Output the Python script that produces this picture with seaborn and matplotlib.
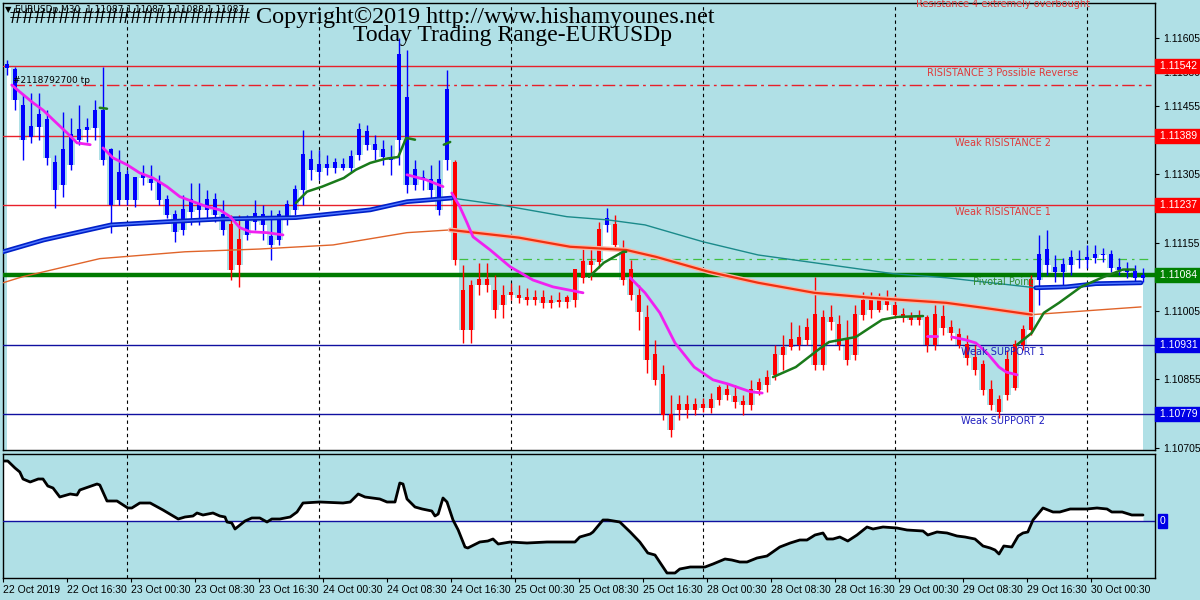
import numpy as np
import pandas as pd
import seaborn as sns
import matplotlib.pyplot as plt
import matplotlib.transforms as mtransforms

# EURUSDp hourly candles (prices in points, 1e-5)
opens = [111545, 111534, 111457, 111387, 111409, 111425, 111330, 111282, 111326, 111381,
         111403, 111407, 111446, 111359, 111249, 111304, 111249, 111297, 111293, 111286,
         111249, 111216, 111183, 111223, 111238, 111227, 111249, 111216, 111194, 111106,
         111172, 111201, 111216, 111168, 111161, 111209, 111227, 111271, 111337, 111310,
         111319, 111319, 111326, 111319, 111348, 111398, 111370, 111359, 111341, 111381,
         111473, 111315, 111293, 111293, 111293, 111337, 111330, 111051, 110964, 111073,
         111062, 111051, 111018, 111045, 111040, 111034, 111029, 111034, 111023, 111029,
         111025, 111029, 111078, 111106, 111113, 111194, 111194, 111139, 111095, 111040,
         110990, 110909, 110865, 110777, 110788, 110799, 110788, 110799, 110792, 110810,
         110832, 110817, 110806, 110799, 110832, 110843, 110865, 110909, 110926, 110931,
         110942, 110997, 110887, 110990, 110975, 110942, 110909, 110997, 111029, 111007,
         111034, 111018, 110997, 110990, 110986, 110990, 110931, 110992, 110968, 110953,
         110931, 110902, 110887, 110832, 110810, 110821, 110836, 110931, 110964, 111073,
         111139, 111100, 111091, 111106, 111117, 111117, 111122, 111130, 111128, 111100,
         111095, 111091, 111078]
highs = [111556, 111541, 111479, 111484, 111484, 111446, 111348, 111442, 111429, 111457,
         111429, 111468, 111541, 111363, 111359, 111315, 111293, 111326, 111326, 111304,
         111260, 111227, 111260, 111286, 111286, 111271, 111264, 111249, 111216, 111216,
         111216, 111249, 111238, 111227, 111227, 111249, 111282, 111403, 111359, 111359,
         111348, 111341, 111341, 111359, 111418, 111414, 111392, 111381, 111370, 111605,
         111578, 111337, 111315, 111326, 111337, 111534, 111337, 111106, 111073, 111111,
         111111, 111084, 111062, 111067, 111062, 111056, 111051, 111051, 111040, 111047,
         111040, 111062, 111146, 111144, 111201, 111231, 111216, 111161, 111117, 111062,
         111018, 110942, 110887, 110821, 110821, 110821, 110814, 110814, 110825, 110843,
         110847, 110843, 110821, 110854, 110858, 110876, 110931, 110953, 110981, 110975,
         110990, 111080, 111007, 111018, 110997, 110986, 111018, 111047, 111047, 111045,
         111051, 111040, 111012, 111003, 111007, 110997, 111018, 111018, 110986, 110968,
         110953, 110931, 110898, 110854, 110821, 110920, 110942, 110975, 111084, 111172,
         111183, 111128, 111122, 111139, 111139, 111150, 111150, 111144, 111139, 111122,
         111113, 111106, 111100]
lows = [111523, 111446, 111337, 111374, 111381, 111326, 111231, 111256, 111315, 111370,
        111376, 111381, 111326, 111177, 111238, 111238, 111234, 111282, 111271, 111238,
        111210, 111157, 111172, 111194, 111194, 111205, 111201, 111172, 111073, 111058,
        111161, 111183, 111161, 111117, 111150, 111194, 111216, 111238, 111293, 111293,
        111304, 111308, 111315, 111310, 111337, 111359, 111337, 111326, 111304, 111326,
        111264, 111271, 111271, 111249, 111216, 111315, 111106, 110935, 110935, 111040,
        111047, 110990, 110990, 111029, 111023, 111018, 111018, 111012, 111012, 111014,
        111012, 111014, 111067, 111073, 111100, 111179, 111144, 111062, 111029, 110964,
        110869, 110843, 110766, 110729, 110766, 110770, 110777, 110784, 110782, 110799,
        110810, 110792, 110777, 110788, 110821, 110828, 110854, 110876, 110920, 110920,
        110931, 110876, 110876, 110964, 110920, 110887, 110898, 110986, 110990, 111003,
        111007, 110990, 110981, 110975, 110975, 110915, 110920, 110953, 110942, 110924,
        110887, 110865, 110821, 110788, 110770, 110810, 110832, 110920, 110953, 111018,
        111084, 111069, 111062, 111084, 111100, 111100, 111111, 111113, 111091, 111084,
        111078, 111069, 111069]
closes = [111539, 111468, 111381, 111409, 111436, 111341, 111271, 111359, 111392, 111403,
          111407, 111446, 111337, 111238, 111310, 111249, 111297, 111304, 111286, 111249,
          111216, 111179, 111227, 111249, 111227, 111249, 111216, 111183, 111095, 111161,
          111205, 111220, 111194, 111150, 111216, 111238, 111271, 111348, 111315, 111326,
          111326, 111330, 111319, 111343, 111403, 111370, 111359, 111343, 111337, 111567,
          111282, 111282, 111297, 111271, 111227, 111490, 111117, 110964, 111062, 111062,
          111073, 111007, 111040, 111040, 111034, 111029, 111034, 111023, 111029, 111025,
          111034, 111095, 111113, 111113, 111183, 111209, 111150, 111073, 111040, 111002,
          110898, 110854, 110777, 110744, 110799, 110788, 110799, 110792, 110810, 110836,
          110821, 110806, 110799, 110832, 110847, 110858, 110909, 110924, 110942, 110946,
          110968, 110887, 110990, 110981, 110931, 110898, 110997, 111029, 111007, 111036,
          111018, 110997, 110990, 110986, 110990, 110931, 110997, 110968, 110957, 110931,
          110902, 110876, 110832, 110799, 110784, 110898, 110931, 110964, 111073, 111128,
          111106, 111091, 111106, 111122, 111117, 111122, 111130, 111128, 111100, 111095,
          111091, 111078, 111082]
trend_runs = [(28, 'up'), (2, 'down'), (26, 'up'), (19, 'down'), (1, 'up'), (53, 'down'), (14, 'up')]

# moving averages: segments of (hour, points)
ma_fast = [[(1.1, 111501), (2.1, 111486), (3.75, 111462), (5.0, 111446), (6.25, 111425), (8.0, 111396), (9.25, 111374), (10.9, 111370)],
           [(12.5, 111363), (13.75, 111341), (15.5, 111326), (17.1, 111308), (18.75, 111297), (20.5, 111278), (22.1, 111256),
            (23.75, 111245), (25.5, 111234), (27.1, 111227), (28.4, 111212), (29.6, 111188), (30.9, 111179), (33, 111177), (35, 111172)],
           [(50.5, 111304), (52.9, 111293), (55, 111278)],
           [(56.1, 111264), (57.1, 111234), (58, 111199), (58.75, 111168), (60.9, 111139), (63.4, 111102), (66.25, 111073),
            (68.75, 111058), (72.5, 111045)],
           [(78.4, 111078), (80.25, 111045), (82.1, 111001), (84, 110935), (86.4, 110882), (88.75, 110854), (90.6, 110845),
            (93.4, 110828), (94.9, 110825)],
           [(115.5, 110950), (116.75, 110950)],
           [(118.6, 110948), (120.25, 110942), (121.6, 110935), (123, 110913), (124.5, 110882), (125.4, 110871), (126.75, 110865)]]
ma_mid = [[(12.1, 111451), (13, 111449)],
          [(36.6, 111242), (38, 111267), (39.9, 111278), (42.6, 111297), (44.1, 111315), (45.9, 111330), (47.75, 111339),
           (49.4, 111343), (50.4, 111385), (51.5, 111381)],
          [(55.1, 111370), (55.9, 111376)],
          [(73.25, 111080), (75.1, 111111), (77.5, 111135), (77.9, 111135)],
          [(96.25, 110860), (99.1, 110882), (101.9, 110920), (103.25, 110937), (106.6, 110948), (108.5, 110970), (109.9, 110986),
           (111.75, 110992), (115, 110994)],
          [(126.75, 110931), (128.6, 110957), (130.1, 111001), (132, 111023), (134.75, 111058), (137.6, 111080), (140, 111096),
           (141.4, 111096)]]
ma_slow_up = [[(0, 111135), (5.1, 111161), (13.5, 111194), (20.5, 111201), (27.4, 111207), (36.6, 111210), (45.9, 111227),
               (50.5, 111245), (56.1, 111253)],
              [(129.1, 111056), (132.9, 111058), (136.6, 111065), (142.25, 111067)]]
ma_slow_dn = [[(56.1, 111253), (62.1, 111238), (70.5, 111212), (75.6, 111205), (80.25, 111194), (87.5, 111157), (94.4, 111128),
               (101.4, 111111), (111.25, 111087), (117.9, 111078), (129.1, 111056)]]
ma_long_thin = [[(0, 111067), (2.4, 111080), (12.1, 111120), (22.75, 111135), (32, 111141), (41.25, 111150), (50.5, 111177),
                 (55.9, 111183)],
                [(128.6, 110997), (142.25, 111014)]]
ma_long_thick = [[(55.9, 111183), (64.5, 111166), (70.9, 111146), (77.9, 111139), (81.6, 111124), (88.25, 111091), (94.4, 111067),
                  (101.4, 111045), (108.5, 111034), (117.9, 111023), (122.6, 111012), (128.6, 110997)]]

# oscillator (lower panel)
osc_hours = [0, 0.6, 1.5, 2.1, 2.5, 3.4, 4.4, 5, 5.6, 6.25, 7.1, 8.4, 9.25, 9.6, 11.75, 12.1, 13, 14.25, 15.6, 16.1,
             17.1, 18.4, 20, 21.9, 22.75, 23.75, 24.25, 25, 26.25, 27.1, 27.75, 28, 28.6, 29, 30.25, 31.1, 32.1, 33, 33.6,
             34.6, 35.9, 36.75, 37.5, 39.6, 42.5, 43.4, 44.4, 45.25, 47.1, 48, 49, 49.6, 50, 50.5, 51.5, 52.4, 53.6, 54,
             54.4, 55, 55.5, 56.25, 56.9, 57.75, 58.1, 59.6, 60.6, 61.25, 61.9, 63.4, 65.5, 68, 70.5, 71.5, 72.1, 73.4,
             73.75, 75, 75.6, 77.1, 78.4, 79.6, 80.6, 81.5, 83, 84, 84.6, 85.9, 87.75, 88.75, 90.25, 91.1, 92.1, 93, 94.25,
             95.5, 97.1, 98.4, 99.6, 100.5, 101.5, 102.5, 103, 103.75, 104.6, 105.6, 106.75, 108, 108.75, 110, 111.75, 113,
             115, 115.6, 116.75, 118, 119.25, 120.25, 121.5, 122.5, 123.4, 124, 124.5, 125.1, 126.1, 126.9, 127.5, 128.1,
             128.75, 130, 131.25, 132.1, 133.4, 135.5, 136.75, 138, 138.6, 139.9, 141.1, 142.5]
osc_values = [60, 60, 53, 49, 42, 39, 42, 42, 35, 33, 24, 27, 26, 31, 37, 36, 20, 20, 13, 13,
              18, 18, 11, 2, 4, 5, 8, 6, 8, 5, 4, -1, -2, -8, 0, 3, 3, -1, 2,
              2, 4, 9, 18, 19, 18, 19, 27, 24, 22, 19, 19, 38, 37, 22, 14, 12, 10, 5,
              7, 23, 19, 1, -9, -26, -27, -21, -20, -18, -23, -21, -22, -21, -21, -21, -16, -13,
              -11, 1, 1, -1, -11, -21, -32, -34, -52, -52, -48, -46, -46, -43, -38, -39, -41, -41, -37,
              -35, -26, -22, -19, -19, -14, -12, -18, -18, -16, -20, -14, -6, -8, -6, -7, -9,
              -10, -14, -11, -12, -15, -16, -18, -25, -27, -29, -33, -25, -26, -15, -12, -11,
              1, 13, 9, 9, 12, 12, 13, 12, 9, 9, 6, 6]

# levels
levels = [1.11542, 1.11389, 1.11237, 1.11084, 1.10931, 1.10779]
level_labels = ['RISISTANCE 3 Possible Reverse', 'Weak RISISTANCE 2', 'Weak RISISTANCE 1',
                'Pivotal Point', 'Weak SUPPORT 1', 'Weak SUPPORT 2']
r4_level = 1.11695
tp_level = 1.11502
mid_level = 1.11120
price_ticks = [1.11605, 1.11530, 1.11455, 1.11380, 1.11305, 1.11230, 1.11155,
               1.11080, 1.11005, 1.10930, 1.10855, 1.10780, 1.10705]
time_labels = ['22 Oct 2019', '22 Oct 16:30', '23 Oct 00:30', '23 Oct 08:30', '23 Oct 16:30',
               '24 Oct 00:30', '24 Oct 08:30', '24 Oct 16:30', '25 Oct 00:30', '25 Oct 08:30',
               '25 Oct 16:30', '28 Oct 00:30', '28 Oct 08:30', '28 Oct 16:30', '29 Oct 00:30',
               '29 Oct 08:30', '29 Oct 16:30', '30 Oct 00:30']
day_breaks = [15.5, 39.5, 63.5, 87.5, 111.5, 135.5]

BG = '#B0E0E6'
sns.set_theme(style='white')
plt.rcParams['font.family'] = ['DejaVu Sans']
AXFONT = 'Liberation Sans'

o = np.array(opens) / 1e5
h = np.array(highs) / 1e5
l = np.array(lows) / 1e5
c = np.array(closes) / 1e5
hours = np.arange(len(o)) + 0.5
trend = sum([[t] * n for n, t in trend_runs], [])
col = ['#0000FF' if t == 'up' else '#FF0000' for t in trend]


def segs_frame(segs):
    rows = []
    for k, seg in enumerate(segs):
        for hh, p in seg:
            rows.append((k, hh, p / 1e5))
    return pd.DataFrame(rows, columns=['seg', 'hour', 'price'])


fig = plt.figure(figsize=(12, 6), dpi=100, facecolor=BG)
ax = fig.add_axes([3 / 1200, 1 - 450 / 600, 1152 / 1200, 447 / 600], facecolor=BG)
ax2 = fig.add_axes([3 / 1200, 1 - 578 / 600, 1152 / 1200, 124 / 600], facecolor=BG)

ylo, yhi = 1.10700, 1.11681
ax.set_xlim(0, 144)
ax.set_ylim(ylo, yhi)

# white area under price
ax.fill_between(hours, np.minimum(o, c), ylo, step='mid', color='white', lw=0, zorder=1)

for x in day_breaks:
    ax.axvline(x, color='black', lw=0.8, ls=(0, (3, 3)), zorder=2)
    ax2.axvline(x, color='black', lw=0.8, ls=(0, (3, 3)), zorder=2)

# level lines
lv_colors = ['#E8202A', '#E8202A', '#E8202A', '#007A00', '#1010A0', '#1010A0']
lv_text = ['#E03A3A', '#E03A3A', '#E03A3A', '#2E8B2E', '#2020C0', '#2020C0']
lv_box = ['#FF0000', '#FF0000', '#FF0000', '#008000', '#0000E6', '#0000E6']
for lv, lab, lc, tc in zip(levels, level_labels, lv_colors, lv_text):
    ax.axhline(lv, color=lc, lw=3.2 if lab == 'Pivotal Point' else 1.0, zorder=3)
    ax.annotate(lab, xy=(125, lv), xytext=(0, -1.5), textcoords='offset points',
                ha='center', va='top', fontsize=7, color=tc, zorder=8)
ax.annotate('Resistance 4 extremely overbought', xy=(125, r4_level), xytext=(0, -1.5),
            textcoords='offset points', ha='center', va='top', fontsize=7, color='#E03A3A',
            annotation_clip=False)
ax.plot([1.1, 143.5], [tp_level, tp_level], color='#E8202A', lw=1.0, ls=(0, (9, 3, 2, 3)), zorder=3)
ax.plot([57, 143.5], [mid_level, mid_level], color='#40C040', lw=0.9, ls=(0, (7, 4, 2, 4)), zorder=3)
ax.text(1.2, tp_level + 0.00010, '#2118792700 tp', fontsize=6.5, color='black', va='center', zorder=8)

# candles
ax.vlines(hours, l, h, colors=col, lw=1.0, zorder=4)
ax.bar(hours, np.abs(c - o) + 0.000012, bottom=np.minimum(o, c), width=0.62, color=col, lw=0, zorder=4)


# moving averages
def draw(segs, color, lw, z):
    sns.lineplot(data=segs_frame(segs), x='hour', y='price', units='seg', estimator=None, sort=False,
                 color=color, lw=lw, ax=ax, legend=False, zorder=z)


draw(ma_long_thin, '#E0642A', 1.0, 5)
draw(ma_long_thick, '#F8B8A8', 3.5, 5)
draw(ma_long_thick, '#F0300F', 1.6, 5)
draw(ma_slow_dn, '#1A8A8A', 1.0, 5)
draw(ma_slow_up, '#0020C8', 3.4, 5)
draw(ma_slow_up, '#5078FF', 1.0, 5)
draw(ma_mid, '#1A7A1A', 1.8, 6)
draw(ma_fast, '#F020F0', 2.0, 6)

ax.set_xlabel('')
ax.set_ylabel('')
ax.set_xticks([])
ax.yaxis.tick_right()
ax.set_yticks(price_ticks)
ax.set_yticklabels([f'{p:.5f}' for p in price_ticks], family=AXFONT)
ax.tick_params(axis='y', right=True, length=3, width=0.8, labelsize=7.5, pad=3, colors='black')
for s in ax.spines.values():
    s.set_color('black')
    s.set_linewidth(1.0)

trans = mtransforms.blended_transform_factory(ax.transAxes, ax.transData)
for lv, bc in zip(levels, lv_box):
    ax.text(1.0015, lv, f' {lv:.5f} ', transform=trans, ha='left', va='center', fontsize=7.5,
            family=AXFONT, color='white', zorder=10, clip_on=False,
            bbox=dict(boxstyle='square,pad=0.2', fc=bc, ec=bc))

# lower panel
ax2.set_xlim(0, 144)
ax2.set_ylim(-57, 67)
ax2.fill_between(osc_hours, osc_values, 0, color='white', lw=0, zorder=1)
ax2.axhline(0, color='#1010A0', lw=1.0, zorder=3)
sns.lineplot(x=osc_hours, y=osc_values, sort=False, estimator=None, color='black', lw=2.0, ax=ax2, zorder=4)
ax2.set_yticks([])
ax2.set_xticks(np.arange(len(time_labels)) * 8)
ax2.set_xticklabels(time_labels, ha='left', family=AXFONT)
ax2.tick_params(axis='x', bottom=True, length=3, width=0.8, labelsize=7.5, pad=2, colors='black')
for s in ax2.spines.values():
    s.set_color('black')
    s.set_linewidth(1.0)
trans2 = mtransforms.blended_transform_factory(ax2.transAxes, ax2.transData)
ax2.text(1.004, 0, '0', transform=trans2, ha='left', va='center', fontsize=7.5, color='white',
         family=AXFONT, clip_on=False, bbox=dict(boxstyle='square,pad=0.15', fc='#0000E6', ec='#0000E6'))

# headings
fig.text(5 / 1200, 1 - 10 / 600, '\u25bc', fontsize=6, color='black', va='center')
fig.text(15 / 1200, 1 - 9 / 600, 'EURUSDp,M30  1.11087 1.11087 1.11088 1.11087', fontsize=6.5,
         color='black', va='center')
fig.text(10 / 1200, 1 - 17 / 600, '#' * 20 + ' Copyright\u00a92019 http://www.hishamyounes.net',
         fontsize=17.4, family='Liberation Serif', color='black', va='center')
fig.text(353 / 1200, 1 - 36 / 600, 'Today Trading Range-EURUSDp', fontsize=17,
         family='Liberation Serif', color='black', va='center')

fig.savefig('out.png', dpi=100, facecolor=BG)
